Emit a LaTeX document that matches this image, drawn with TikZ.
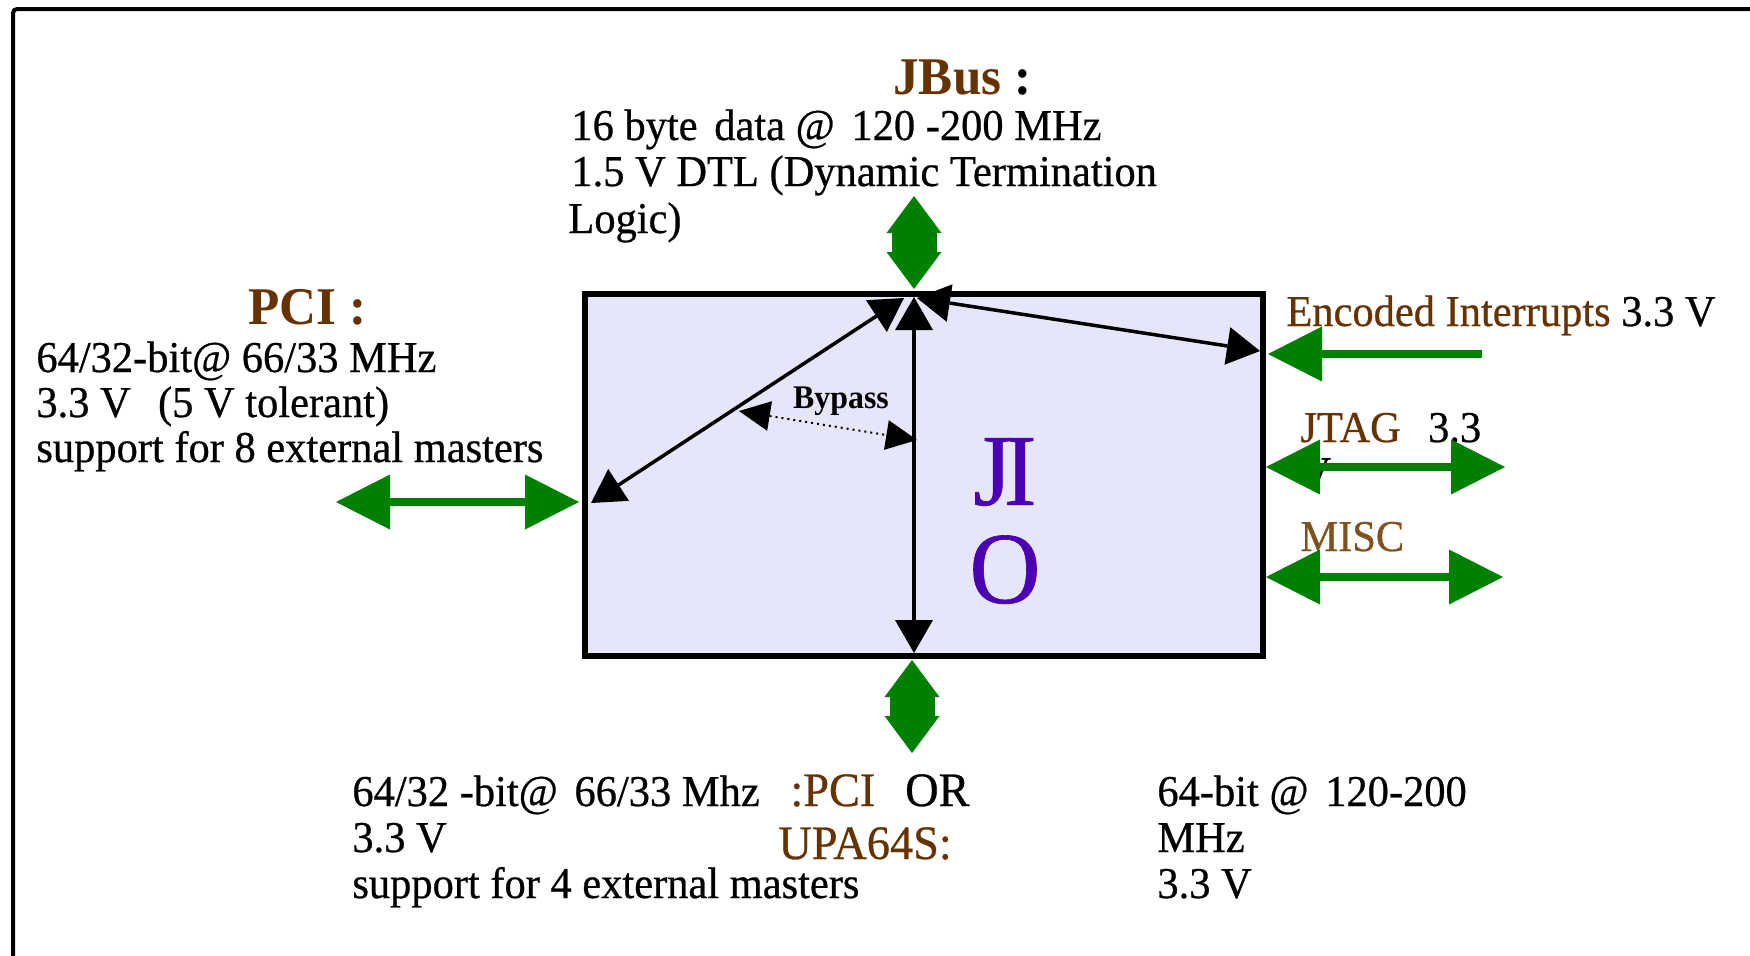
\documentclass[tikz,border=0pt]{standalone}
\usepackage{fontspec}
\setmainfont{Liberation Serif}[FakeStretch=0.965, UprightFeatures={FakeBold=0.6}]
\usetikzlibrary{arrows.meta}
\definecolor{brn}{RGB}{102,51,0}
\definecolor{brnl}{RGB}{128,80,30}
\definecolor{gr}{RGB}{0,128,0}
\definecolor{boxfill}{RGB}{230,230,250}
\definecolor{jiop}{RGB}{75,0,180}
\newcommand\twosp{\hspace{0.38em}}
\begin{document}
\begin{tikzpicture}[x=0.5pt,y=-0.5pt,
  txt/.style={anchor=base west, inner sep=0pt, font=\fontsize{22}{23}\selectfont},
  mid/.style={anchor=base west, inner sep=0pt, font=\fontsize{24}{25}\selectfont},
  ttl/.style={anchor=base west, inner sep=0pt, font=\fontsize{26.5}{28}\selectfont\bfseries},
  blk/.style={line width=1.75pt, {Triangle[length=16.5pt,width=19pt,line width=0pt]}-{Triangle[length=16.5pt,width=19pt,line width=0pt]}},
  byp/.style={line width=1pt, dotted, {Triangle[length=15.5pt,width=15pt,line width=0pt]}-{Triangle[length=15.5pt,width=15pt,line width=0pt]}},
  gv/.style={draw=gr, line width=22.5pt, {Triangle[length=18.5pt,width=27.5pt,line width=0pt]}-{Triangle[length=18.5pt,width=27.5pt,line width=0pt]}},
  gh/.style={draw=gr, line width=4pt, {Triangle[length=27pt,width=27.5pt,line width=0pt]}-{Triangle[length=27pt,width=27.5pt,line width=0pt]}},
  gs/.style={draw=gr, line width=4pt, -{Triangle[length=27pt,width=27.5pt,line width=0pt]}}
]
\useasboundingbox (0,0) rectangle (1750,955);
\fill[white] (0,0) rectangle (1750,955);
% outer frame
\draw[line width=2pt, rounded corners=2pt] (13,960) -- (13,9) -- (1760,9);

% main block
\node[draw, line width=3pt, fill=boxfill, minimum width=339pt, minimum height=181pt, inner sep=0pt, outer sep=0pt] (io) at (924,475) {};
\node[font=\fontsize{51}{49}\selectfont, text=jiop, align=center, inner sep=0pt] (jio) at (1005,521) {J\kern-4pt I\\O};
\node[anchor=base, inner sep=0pt, font=\fontsize{16.5}{17}\selectfont\bfseries] (byptxt) at (841,408) {Bypass};

% named points
\coordinate (hub) at (914,297);
\coordinate (hubL) at (904,298);
\coordinate (hubR) at (917,298);
\coordinate (inW) at (591,503);
\coordinate (inS) at (914,653);
\coordinate (inE) at (1260,351);
\coordinate (bypL) at (739,411);
\coordinate (bypR) at (917,440);

\draw[blk] (inW) -- (hubL);
\draw[blk] (hub) -- (inS);
\draw[blk] (hubR) -- (inE);
\draw[byp] (bypL) -- (bypR);

% texts
\node[ttl] (jbus) at (893,94) {{\color{brn}JBus} :};
\node[txt] (jb1) at (571,140) {16 byte\twosp data @\twosp 120 -200 MHz};
\node[txt] (jb2) at (571,186) {1.5 V DTL (Dynamic Termination};
\node[txt] (jb3) at (568,233) {Logic)};

\node[ttl, text=brn] (pci) at (248,324) {PCI :};
\node[txt] (pci1) at (36,372) {64/32-bit@ 66/33 MHz};
\node[txt] (pci2) at (36,417) {3.3 V\twosp\ (5 V tolerant)};
\node[txt] (pci3) at (36,462) {support for 8 external masters};

\node[txt] (enc) at (1286,326) {{\color{brn}Encoded Interrupts} 3.3 V};
\node[txt] (jtag) at (1300,442) {{\color{brn}JTAG}\twosp\ 3.3};
\node[txt] (jtagv) at (1300,487) {V};
\node[txt, text=brnl] (misc) at (1300,551) {MISC};

\node[txt] (bl1) at (352,806) {64/32 -bit@\twosp 66/33 Mhz};
\node[txt] (bl2) at (352,852) {3.3 V};
\node[txt] (bl3) at (352,898) {support for 4 external masters};
\node[mid] (pcior) at (790,806) {{\color{brn}:PCI}\twosp\ OR};
\node[mid, text=brn] (upa) at (778,859) {UPA64S:};
\node[txt] (br1) at (1157,806) {64-bit @\twosp 120-200};
\node[txt] (br2) at (1157,852) {MHz};
\node[txt] (br3) at (1157,898) {3.3 V};

% green external connectors
\coordinate (jbTop) at (914,196);
\coordinate (jbBot) at (914,289);
\coordinate (upTop) at (912,660);
\coordinate (upBot) at (912,753);
\coordinate (pciL) at (336,502);
\coordinate (pciR) at (579,502);
\coordinate (encS) at (1482,354);
\coordinate (encT) at (1268,354);
\coordinate (jtL) at (1266,467);
\coordinate (jtR) at (1505,467);
\coordinate (miL) at (1266,577);
\coordinate (miR) at (1503,577);

\draw[gv] (jbTop) -- (jbBot);
\draw[gv] (upTop) -- (upBot);
\draw[gh] (pciL) -- (pciR);
\draw[gs] (encS) -- (encT);
\draw[gh] (jtL) -- (jtR);
\draw[gh] (miL) -- (miR);
\end{tikzpicture}
\end{document}
